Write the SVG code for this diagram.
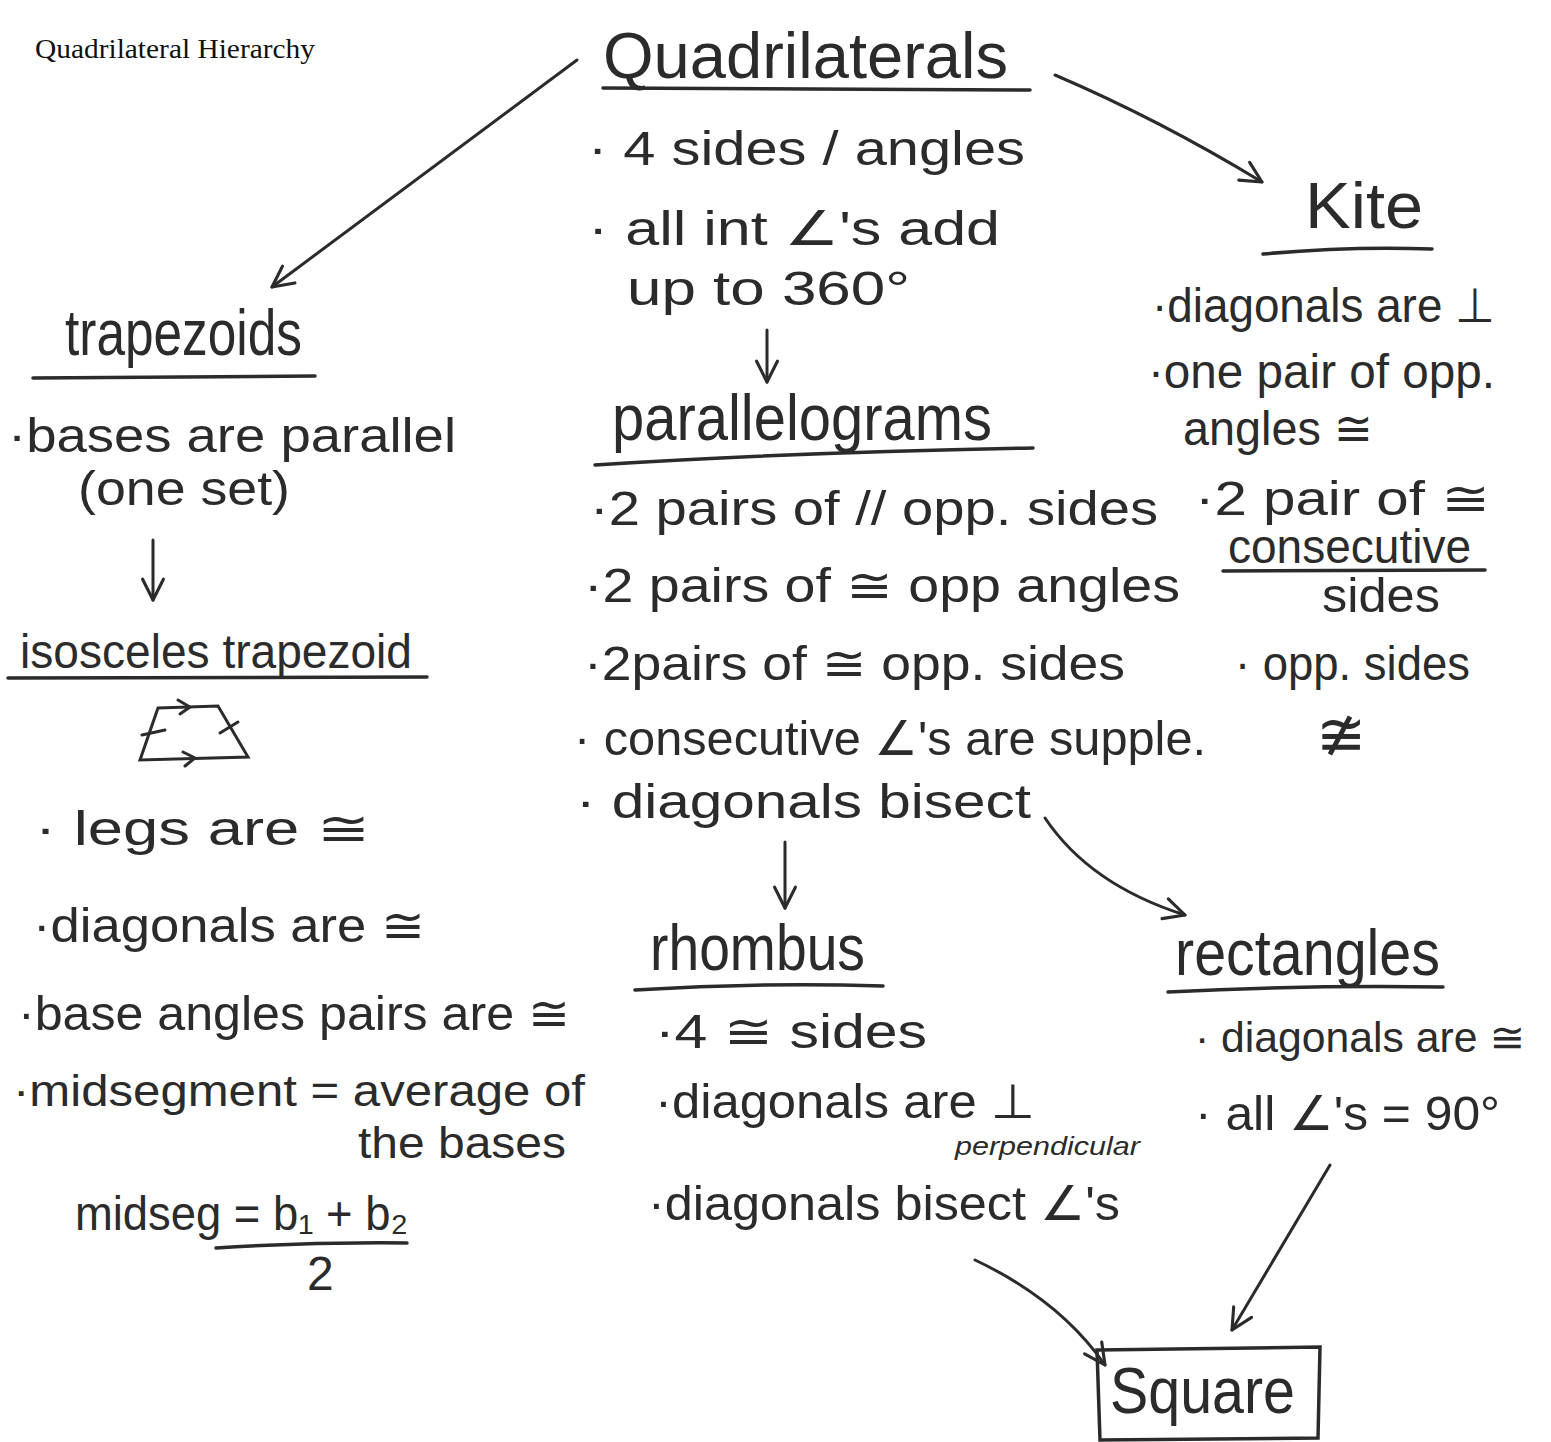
<svg xmlns="http://www.w3.org/2000/svg" width="1551" height="1442" viewBox="0 0 1551 1442">
<defs>
<style>
.h{font-family:"Liberation Sans","DejaVu Sans",sans-serif;fill:#2b2b2b}
.t{font-size:64px}
.b{font-size:48px}
.m{font-size:44px}
.r{font-size:42px}
.s{font-size:26px;font-style:italic}
.u{stroke:#2b2b2b;stroke-width:3.5;fill:none;stroke-linecap:round}
.c{stroke:#2b2b2b;stroke-width:3;fill:none;stroke-linecap:round}
.title{font-family:"Liberation Serif","Times New Roman",serif;font-size:27px;fill:#111}
</style>
<marker id="arr" viewBox="0 0 20 20" refX="18" refY="10" markerWidth="26" markerHeight="26" markerUnits="userSpaceOnUse" orient="auto">
<path d="M2,2 L18,10 L2,18" fill="none" stroke="#2b2b2b" stroke-width="2.4" stroke-linecap="round" stroke-linejoin="round"/>
</marker>
</defs>
<rect width="1551" height="1442" fill="#ffffff"/>

<text class="title" x="35" y="58" textLength="280" lengthAdjust="spacingAndGlyphs">Quadrilateral Hierarchy</text>

<g id="connectors">
<path class="c" d="M577,60 L272,287" marker-end="url(#arr)"/>
<path class="c" d="M1055,75 Q1160,120 1262,182" marker-end="url(#arr)"/>
<path class="c" d="M767,330 L767,382" marker-end="url(#arr)"/>
<path class="c" d="M153,540 L153,600" marker-end="url(#arr)"/>
<path class="c" d="M785,842 L785,908" marker-end="url(#arr)"/>
<path class="c" d="M1045,818 Q1090,885 1185,915" marker-end="url(#arr)"/>
<path class="c" d="M975,1260 Q1060,1300 1105,1365" marker-end="url(#arr)"/>
<path class="c" d="M1330,1165 L1232,1330" marker-end="url(#arr)"/>
</g>

<g id="quadrilaterals">
<text class="h t" x="603" y="78" textLength="405" lengthAdjust="spacingAndGlyphs">Quadrilaterals</text>
<path class="u" d="M603,88 L1030,90"/>
<text class="h b" x="588" y="165" textLength="437" lengthAdjust="spacingAndGlyphs">· 4 sides / angles</text>
<text class="h b" x="588" y="245" textLength="412" lengthAdjust="spacingAndGlyphs">· all int ∠'s add</text>
<text class="h b" x="627" y="305" textLength="283" lengthAdjust="spacingAndGlyphs">up to 360°</text>
</g>

<g id="kite">
<text class="h t" x="1305" y="228" textLength="118" lengthAdjust="spacingAndGlyphs">Kite</text>
<path class="u" d="M1263,254 Q1350,246 1432,249"/>
<text class="h b" x="1152" y="322" textLength="343" lengthAdjust="spacingAndGlyphs">·diagonals are ⊥</text>
<text class="h b" x="1148" y="388" textLength="347" lengthAdjust="spacingAndGlyphs">·one pair of opp.</text>
<text class="h b" x="1183" y="445" textLength="190" lengthAdjust="spacingAndGlyphs">angles ≅</text>
<text class="h b" x="1195" y="515" textLength="295" lengthAdjust="spacingAndGlyphs">·2 pair of ≅</text>
<text class="h b" x="1228" y="563" textLength="243" lengthAdjust="spacingAndGlyphs">consecutive</text>
<path class="u" d="M1223,571 L1485,570"/>
<text class="h b" x="1322" y="612" textLength="118" lengthAdjust="spacingAndGlyphs">sides</text>
<text class="h b" x="1235" y="680" textLength="235" lengthAdjust="spacingAndGlyphs">· opp. sides</text>
<text class="h" x="1316" y="755" font-size="60">≇</text>
</g>

<g id="trapezoids">
<text class="h t" x="65" y="355" textLength="237" lengthAdjust="spacingAndGlyphs">trapezoids</text>
<path class="u" d="M33,378 L315,376"/>
<text class="h b" x="8" y="452" textLength="448" lengthAdjust="spacingAndGlyphs">·bases are parallel</text>
<text class="h b" x="78" y="505" textLength="212" lengthAdjust="spacingAndGlyphs">(one set)</text>
</g>

<g id="isosceles-trapezoid">
<text class="h b" x="20" y="668" textLength="392" lengthAdjust="spacingAndGlyphs">isosceles trapezoid</text>
<path class="u" d="M8,678 L427,677"/>
<g class="c">
<path d="M158,708 L218,706 L248,757 L140,760 Z"/>
<path d="M178,700 L190,707 L180,714"/>
<path d="M183,752 L195,758 L185,766"/>
<path d="M142,735 L165,730"/>
<path d="M220,733 L238,722"/>
</g>
<text class="h b" x="35" y="845" textLength="335" lengthAdjust="spacingAndGlyphs">· legs are ≅</text>
<text class="h b" x="33" y="942" textLength="392" lengthAdjust="spacingAndGlyphs">·diagonals are ≅</text>
<text class="h b" x="18" y="1030" textLength="552" lengthAdjust="spacingAndGlyphs">·base angles pairs are ≅</text>
<text class="h m" x="13" y="1106" textLength="572" lengthAdjust="spacingAndGlyphs">·midsegment = average of</text>
<text class="h m" x="358" y="1158" textLength="208" lengthAdjust="spacingAndGlyphs">the bases</text>
<text class="h b" x="75" y="1230" textLength="333" lengthAdjust="spacingAndGlyphs">midseg = b₁ + b₂</text>
<path class="u" d="M216,1248 Q310,1242 407,1243"/>
<text class="h b" x="307" y="1290">2</text>
</g>

<g id="parallelograms">
<text class="h t" x="612" y="440" textLength="380" lengthAdjust="spacingAndGlyphs">parallelograms</text>
<path class="u" d="M595,465 Q800,452 1033,448"/>
<text class="h b" x="590" y="525" textLength="568" lengthAdjust="spacingAndGlyphs">·2 pairs of // opp. sides</text>
<text class="h b" x="584" y="602" textLength="596" lengthAdjust="spacingAndGlyphs">·2 pairs of ≅ opp angles</text>
<text class="h b" x="584" y="680" textLength="541" lengthAdjust="spacingAndGlyphs">·2pairs of ≅ opp. sides</text>
<text class="h b" x="574" y="755" textLength="632" lengthAdjust="spacingAndGlyphs">· consecutive ∠'s are supple.</text>
<text class="h b" x="576" y="818" textLength="455" lengthAdjust="spacingAndGlyphs">· diagonals bisect</text>
</g>

<g id="rhombus">
<text class="h t" x="650" y="970" textLength="215" lengthAdjust="spacingAndGlyphs">rhombus</text>
<path class="u" d="M635,990 Q760,982 883,986"/>
<text class="h b" x="655" y="1048" textLength="272" lengthAdjust="spacingAndGlyphs">·4 ≅ sides</text>
<text class="h b" x="655" y="1118" textLength="380" lengthAdjust="spacingAndGlyphs">·diagonals are ⊥</text>
<text class="h s" x="955" y="1155" textLength="185" lengthAdjust="spacingAndGlyphs">perpendicular</text>
<text class="h b" x="648" y="1220" textLength="472" lengthAdjust="spacingAndGlyphs">·diagonals bisect ∠'s</text>
</g>

<g id="rectangles">
<text class="h t" x="1175" y="975" textLength="265" lengthAdjust="spacingAndGlyphs">rectangles</text>
<path class="u" d="M1168,992 Q1300,985 1443,987"/>
<text class="h r" x="1195" y="1052" textLength="330" lengthAdjust="spacingAndGlyphs">· diagonals are ≅</text>
<text class="h b" x="1195" y="1130" textLength="305" lengthAdjust="spacingAndGlyphs">· all ∠'s = 90°</text>
</g>

<g id="square">
<path class="u" d="M1097,1350 L1320,1347 L1318,1438 L1100,1440 Z"/>
<text class="h t" x="1110" y="1413" textLength="185" lengthAdjust="spacingAndGlyphs">Square</text>
</g>
</svg>
